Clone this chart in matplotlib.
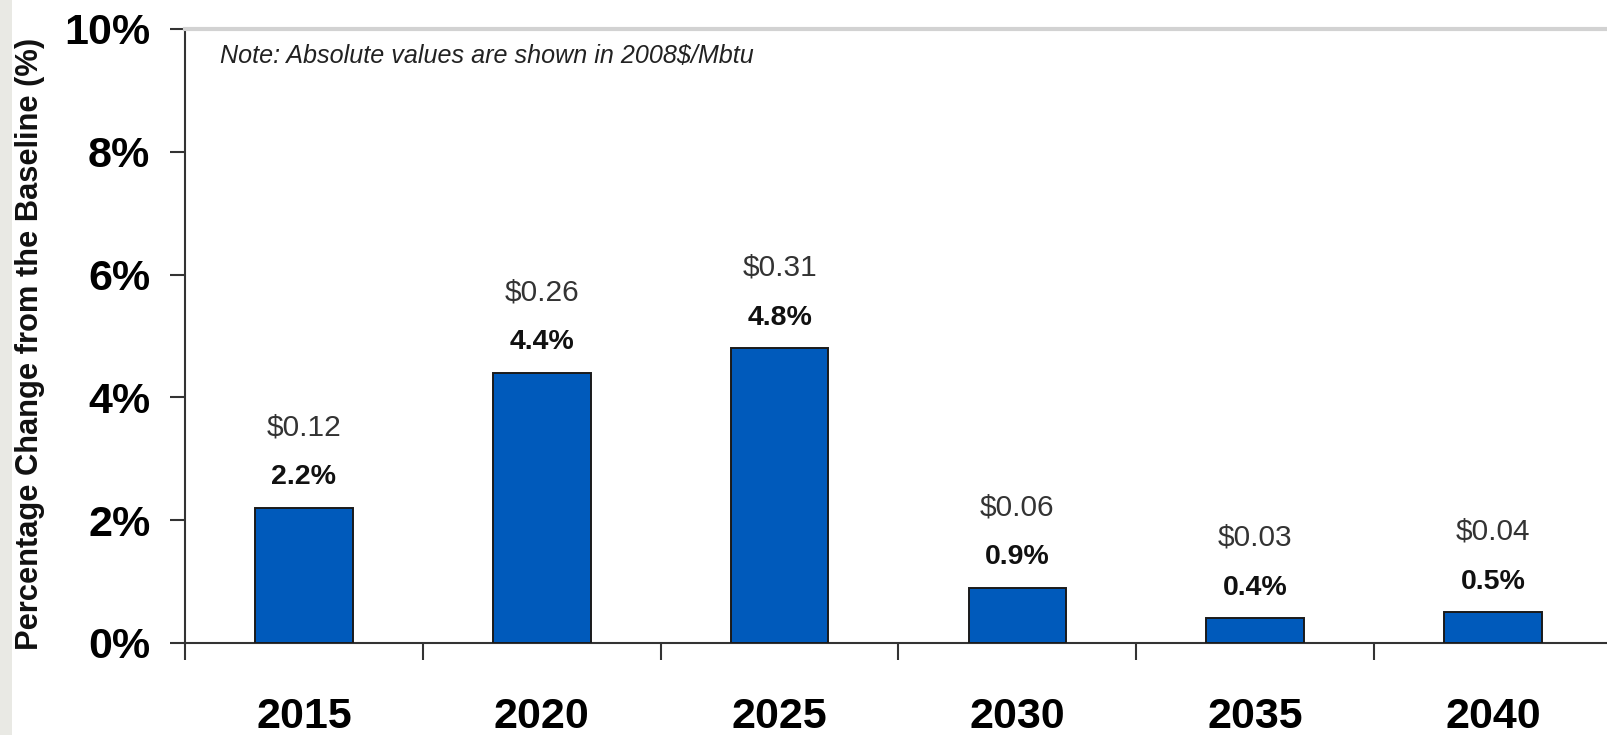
import matplotlib
matplotlib.use("Agg")
import matplotlib.pyplot as plt
from matplotlib.patches import Rectangle

years = ["2015", "2020", "2025", "2030", "2035", "2040"]
pct_change = [2.2, 4.4, 4.8, 0.9, 0.4, 0.5]
abs_change = [0.12, 0.26, 0.31, 0.06, 0.03, 0.04]
yticks = [0, 2, 4, 6, 8, 10]

plt.rcParams["font.family"] = ["Liberation Sans", "DejaVu Sans"]

fig = plt.figure(figsize=(16.08, 7.35), dpi=100)
fig.patch.set_facecolor("white")
# thin grey strip down the left edge
fig.patches.append(Rectangle((0, 0), 12 / 1608, 1, transform=fig.transFigure,
                             facecolor="#e9e9e4", edgecolor="none", zorder=0))

ax = fig.add_axes([185 / 1608, 92 / 735, 1427 / 1608, 614 / 735])

x = [i + 0.5 for i in range(len(years))]
ax.bar(x, pct_change, width=0.41, color="#005abb", edgecolor="#1a1a1a",
       linewidth=1.4, zorder=3)

for xi, p, d in zip(x, pct_change, abs_change):
    ax.annotate(f"{p:.1f}%", (xi, p), xytext=(0, 22), textcoords="offset points",
                ha="center", va="center", fontsize=20.5, fontweight="bold",
                color="#111111")
    ax.annotate(f"${d:.2f}", (xi, p), xytext=(0, 58), textcoords="offset points",
                ha="center", va="center", fontsize=21.5, color="#333333")

ax.set_xlim(0, len(years))
ax.set_ylim(0, 10)

ax.set_yticks(yticks)
ax.set_yticklabels([f"{t}%" for t in yticks], fontsize=31, fontweight="bold")
ax.tick_params(axis="y", direction="out", length=11, width=1.5,
               color="#333333", pad=14)

# boundary ticks between years, year labels at the centres
ax.set_xticks(range(len(years) + 1))
ax.set_xticklabels([])
ax.set_xticks(x, minor=True)
ax.set_xticklabels(years, minor=True, fontsize=31, fontweight="bold")
ax.tick_params(axis="x", which="major", direction="out", length=12, width=1.5,
               color="#333333")
ax.tick_params(axis="x", which="minor", length=0, pad=39)

ax.spines["right"].set_visible(False)
ax.spines["top"].set_color("#d2d2d2")
ax.spines["top"].set_linewidth(3)
ax.spines["left"].set_color("#333333")
ax.spines["left"].set_linewidth(1.5)
ax.spines["bottom"].set_color("#333333")
ax.spines["bottom"].set_linewidth(1.5)

ax.text(0.0245, 0.956, "Note: Absolute values are shown in 2008$/Mbtu",
        transform=ax.transAxes, fontsize=18.1, fontstyle="italic",
        va="center", ha="left", color="#222222")

fig.text(30 / 1608, 1 - 344 / 735, "Percentage Change from the Baseline (%)",
         rotation=90, ha="center", va="center", fontsize=22.2,
         fontweight="bold", color="#111111")

fig.savefig("out.png", dpi=100)
